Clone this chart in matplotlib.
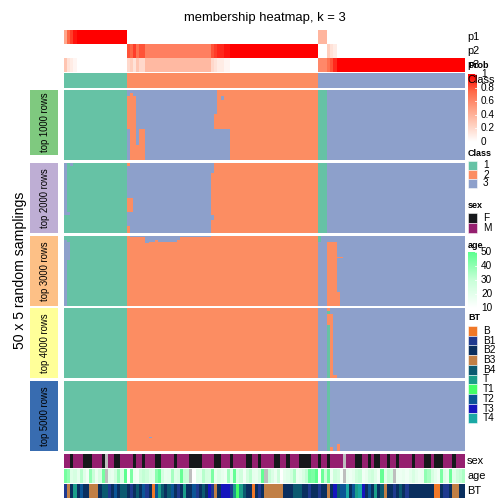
import numpy as np
import matplotlib.pyplot as plt
from matplotlib.colors import ListedColormap, LinearSegmentedColormap, to_rgb, to_rgba
from matplotlib.patches import Rectangle

plt.rcParams['font.family'] = ['Liberation Sans', 'DejaVu Sans']

W = H = 504

# ---- data ----
class_colors = ['#66C2A5', '#FC8D62', '#8DA0CB']
block_names = ['top 1000 rows', 'top 2000 rows', 'top 3000 rows', 'top 4000 rows', 'top 5000 rows']
block_colors = ['#7FC97F', '#BEAED4', '#FDC086', '#FFFF99', '#386CB0']

# each block: (number of sampling rows, [(class, number of columns), ...])
block_1000 = [
    (2, [(1, 20), (3, 29), (2, 32), (1, 3), (3, 44)]),
    (2, [(1, 20), (3, 1), (2, 1), (3, 27), (2, 32), (1, 3), (3, 44)]),
    (3, [(1, 20), (2, 3), (3, 26), (2, 1), (3, 1), (2, 30), (1, 3), (3, 44)]),
    (10, [(1, 20), (2, 3), (3, 26), (2, 32), (1, 3), (3, 44)]),
    (11, [(1, 20), (2, 3), (3, 25), (2, 33), (1, 3), (3, 44)]),
    (11, [(1, 20), (3, 1), (2, 2), (3, 1), (2, 2), (3, 27), (2, 28), (1, 3), (3, 44)]),
    (11, [(1, 20), (3, 1), (2, 5), (3, 27), (2, 28), (1, 3), (3, 44)]),
]
block_2000 = [
    (2, [(3, 1), (1, 1), (3, 1), (1, 17), (2, 1), (3, 27), (2, 33), (1, 3), (3, 44)]),
    (5, [(3, 1), (1, 19), (3, 28), (2, 33), (1, 3), (3, 44)]),
    (18, [(3, 1), (1, 19), (3, 27), (2, 34), (1, 3), (3, 44)]),
    (10, [(3, 1), (1, 19), (2, 2), (3, 25), (2, 34), (1, 3), (3, 44)]),
    (2, [(3, 2), (1, 18), (3, 27), (2, 34), (1, 3), (3, 44)]),
    (4, [(1, 20), (3, 28), (2, 33), (1, 3), (3, 44)]),
    (4, [(1, 20), (3, 27), (2, 34), (1, 3), (3, 44)]),
    (5, [(1, 20), (2, 1), (3, 26), (2, 34), (1, 3), (3, 44)]),
]
block_3000 = [
    (1, [(1, 20), (2, 1), (3, 26), (2, 34), (1, 1), (3, 46)]),
    (2, [(1, 20), (2, 6), (3, 11), (2, 44), (1, 1), (3, 46)]),
    (1, [(3, 1), (1, 19), (2, 6), (3, 3), (2, 1), (3, 6), (2, 45), (1, 1), (3, 46)]),
    (1, [(3, 2), (1, 18), (2, 6), (3, 1), (2, 54), (3, 3), (2, 3), (3, 41)]),
    (10, [(3, 2), (1, 18), (2, 61), (3, 3), (2, 3), (3, 41)]),
    (1, [(3, 2), (1, 18), (2, 61), (3, 3), (2, 5), (3, 39)]),
    (1, [(3, 2), (1, 18), (2, 61), (3, 3), (2, 3), (3, 41)]),
    (23, [(3, 1), (1, 19), (2, 61), (3, 3), (2, 3), (3, 41)]),
    (10, [(3, 1), (1, 19), (2, 61), (3, 3), (2, 4), (3, 40)]),
]
block_4000 = [
    (2, [(1, 20), (2, 61), (3, 3), (2, 1), (3, 43)]),
    (2, [(1, 20), (2, 61), (3, 3), (1, 1), (3, 43)]),
    (8, [(1, 20), (2, 61), (3, 3), (2, 2), (3, 42)]),
    (36, [(1, 20), (2, 61), (3, 3), (1, 1), (2, 1), (3, 42)]),
    (2, [(1, 20), (2, 61), (3, 3), (1, 1), (2, 2), (3, 41)]),
]
block_5000 = [
    (40, [(1, 20), (2, 61), (3, 3), (1, 1), (3, 43)]),
    (1, [(1, 20), (2, 7), (3, 1), (2, 53), (3, 3), (1, 1), (3, 43)]),
    (4, [(1, 20), (2, 61), (3, 3), (1, 1), (3, 43)]),
    (2, [(1, 20), (2, 61), (3, 3), (1, 1), (3, 2), (2, 1), (3, 40)]),
    (3, [(1, 20), (2, 61), (3, 3), (1, 1), (2, 1), (3, 1), (2, 1), (3, 40)]),
]
blocks = [block_1000, block_2000, block_3000, block_4000, block_5000]

# consensus class per column
consensus = [1] * 20 + [2] * 61 + [3] * 47

p1 = [0.45, 0.75, 0.85, 0.95] + [1.0] * 16 + [0.0] * 61 + [0.38] * 3 + [0.0] * 44
p2 = ([0.0] * 20
      + [0.8, 0.75, 0.85, 0.7, 0.8, 0.8] + [0.64] * 21
      + [0.8, 0.85, 0.9, 0.9, 0.95, 0.95] + [1.0] * 28
      + [0.0] * 3 + [0.25, 0.15, 0.1] + [0.0] * 41)
p3 = ([0.3, 0.15, 0.1, 0.05] + [0.0] * 16
      + [0.2, 0.25, 0.15, 0.3, 0.2, 0.2] + [0.36] * 21
      + [0.2, 0.15, 0.1, 0.1, 0.05, 0.05] + [0.0] * 28
      + [0.6] * 3 + [0.7, 0.8, 0.9] + [1.0] * 41)

sex = ['M', 'M', 'F', 'M', 'M', 'M', 'F', 'F', 'F', 'M', 'M', 'M', 'F', None, 'M', 'M',
       'F', 'F', 'M', 'M', 'M', 'M', 'F', 'M', 'M', 'F', 'M', 'M', 'M', 'F', 'F', 'M',
       'M', 'M', 'M', 'F', 'M', 'M', 'M', 'M', 'F', 'F', 'F', 'F', 'M', 'M', 'M', 'M',
       'F', 'F', 'M', 'M', 'M', 'F', 'M', 'M', 'M', 'M', 'F', 'F', 'M', 'M', 'F', 'M',
       'M', 'M', 'M', 'F', 'F', 'M', 'M', 'F', 'M', 'M', 'M', 'F', 'F', 'F', 'F', 'M',
       'M', 'F', 'M', 'M', 'F', 'M', 'M', 'M', 'M', None, 'M', 'M', 'M', 'F', 'F', 'M',
       'M', 'F', 'M', 'F', 'F', 'M', 'M', 'F', 'M', 'M', 'F', 'M', 'M', 'M', 'M', 'F',
       'M', 'M', 'M', 'F', 'F', 'M', 'F', 'F', 'F', 'M', 'M', 'M', 'F', 'M', 'M', 'M']
age = [45, 40, 22, 25, 19, 33, 21, 15, 40, 29, 17, 24, 45, None, 20, 18,
       26, 38, 23, 50, 52, 44, 16, 14, 27, 31, 28, 22, 20, 41, 47, 25,
       18, 19, 36, 22, 24, 48, 30, 29, None, 53, 21, 20, 33, 26, 25, 44,
       18, 23, 19, 16, 37, 21, 48, 22, 27, 15, 26, 32, 19, 18, 24, 49,
       None, 30, 23, 17, 28, 52, 19, 21, 26, 35, 17, 19, 24, 31, 46, 44,
       50, 53, 47, 29, 45, 16, 28, 25, 14, None, 18, 16, 19, 27, 30, 15,
       18, 25, 28, 21, 15, 48, 20, 30, 27, None, 17, 16, 18, 15, 19, 24,
       19, 16, 17, 40, 36, 25, 19, 15, 44, 22, 18, 47, 21, 28, 31, 35]
bt = ['B1', 'B3', 'B2', 'T', 'B2', 'T2', 'B2', 'B2', 'B3', 'B3', 'B3', 'B2', 'B4', 'B4', 'B1', 'B2',
      'T2', 'B2', 'B4', 'B4', 'B2', 'B1', 'B2', 'B4', 'B2', 'T2', 'B1', 'B2', 'B', 'T2', 'T', 'B4',
      'B2', 'B4', 'T2', 'B2', 'B1', 'B2', 'T', 'B2', 'B2', 'T2', 'B1', 'B2', 'B4', 'B2', 'T3', 'B1',
      'B3', 'B2', 'T3', 'T3', 'T3', 'B1', 'T', 'T1', 'T', 'B4', 'B2', 'B2', 'B', 'B2', 'B1', 'B2',
      'B3', 'B3', 'B3', 'B3', 'B3', 'B3', 'B2', 'B2', 'B2', 'B4', 'B4', 'B4', 'B2', 'B2', 'B1', 'B2',
      'B2', 'B1', 'B2', 'B2', 'B3', 'B2', 'T3', 'B4', 'T2', 'T2', 'T4', 'B2', 'T2', 'T', 'T4', 'T3',
      'B2', 'T2', 'B2', 'T', 'B2', 'B4', 'B3', 'B2', 'B2', 'B1', 'B2', 'B4', 'B2', 'B1', 'B2', 'B2',
      'B2', 'B2', 'B2', 'B2', 'B2', 'B2', 'B', 'B', 'B2', 'B1', 'B1', 'B2', 'B3', 'B3', 'B2', 'B2']

sex_colors = {'F': '#16181B', 'M': '#951F6F'}
bt_levels = ['B', 'B1', 'B2', 'B3', 'B4', 'T', 'T1', 'T2', 'T3', 'T4']
bt_colors = ['#F07828', '#1F3A8F', '#0A2F5F', '#C17F45', '#0B5A70',
             '#1B9E8A', '#44FF66', '#0B5596', '#1515BE', '#1AA9A5']
na_color = '#BEBEBE'

prob_cmap = LinearSegmentedColormap.from_list(
    'prob', ['#FFFFFF', '#FFCFBE', '#FF9E81', '#FF6846', '#FF0000'])
age_cmap = LinearSegmentedColormap.from_list('age', ['#FFFFFF', '#C8FFD8', '#5CFF8F'])

# ---- layout (pixels, origin top-left) ----
x0, x1 = 64, 465
block_y = [(90, 160), (163, 233), (236, 306), (308, 378), (381, 451)]
label_y = [(90, 155), (163, 233), (236, 306), (308, 378), (381, 451)]


def expand(runs_rows):
    rows = []
    for n, runs in runs_rows:
        row = np.concatenate([np.full(k, c) for c, k in runs])
        rows.extend([row] * n)
    return np.array(rows, dtype=float)


fig = plt.figure(figsize=(7, 7), dpi=72)
ax = fig.add_axes([0, 0, 1, 1])
ax.axis('off')

class_cmap = ListedColormap(class_colors)


def strip(values, y_top, y_bot, **kw):
    ax.imshow(np.atleast_2d(values), extent=(x0, x1, y_bot, y_top), aspect='auto',
              interpolation='nearest', **kw)


# top annotations
strip(p1, 30, 44, cmap=prob_cmap, vmin=0, vmax=1)
strip(p2, 44, 58, cmap=prob_cmap, vmin=0, vmax=1)
strip(p3, 58, 72, cmap=prob_cmap, vmin=0, vmax=1)
strip(consensus, 73, 88, cmap=class_cmap, vmin=0.5, vmax=3.5)

# membership blocks
for blk, (yt, yb), (lt, lb), name, col in zip(blocks, block_y, label_y, block_names, block_colors):
    mat = expand(blk)
    ax.imshow(mat, extent=(x0, x1, yb, yt), aspect='auto', interpolation='nearest',
              cmap=class_cmap, vmin=0.5, vmax=3.5)
    ax.add_patch(Rectangle((30, lt), 28, lb - lt, facecolor=col, edgecolor='none'))
    ax.text(45, (lt + lb) / 2, name, rotation=90, ha='center', va='center', fontsize=9.5)

# bottom annotations
sex_rgb = [[to_rgb(sex_colors[s]) if s else to_rgb(na_color) for s in sex]]
ax.imshow(sex_rgb, extent=(x0, x1, 468, 454), aspect='auto', interpolation='nearest')
age_rgb = [[age_cmap(min((a - 10) / 40, 1)) if a is not None else to_rgba(na_color) for a in age]]
ax.imshow(age_rgb, extent=(x0, x1, 483, 469), aspect='auto', interpolation='nearest')
bt_rgb = [[to_rgb(bt_colors[bt_levels.index(b)]) for b in bt]]
ax.imshow(bt_rgb, extent=(x0, x1, 498, 484), aspect='auto', interpolation='nearest')

# texts
ax.text((x0 + x1) / 2, 18, 'membership heatmap, k = 3', ha='center', va='center', fontsize=13)
ax.text(20, 270, '50 x 5 random samplings', rotation=90, ha='center', va='center', fontsize=14)
for lab, y in [('p1', 37), ('p2', 51), ('p3', 65), ('sex', 461), ('age', 476), ('BT', 491)]:
    ax.text(467, y, lab, ha='left', va='center', fontsize=11)

# legends
lx = 468
kw_title = dict(ha='left', va='center', fontsize=9, fontweight='bold')
kw_lab = dict(ha='left', va='center', fontsize=10)
ax.text(lx, 66, 'Prob', **kw_title)
ax.text(lx - 1, 80, 'Class', ha='left', va='center', fontsize=11)
grad = np.linspace(1, 0, 100).reshape(-1, 1)
ax.imshow(grad, extent=(lx, lx + 9, 142, 74), aspect='auto', cmap=prob_cmap, vmin=0, vmax=1)
for v in [0, 0.2, 0.4, 0.6, 0.8, 1]:
    yy = 142 - 68 * v
    ax.plot([lx + 7, lx + 9], [yy, yy], color='white', lw=0.8)
    ax.text(lx + 13, yy, f'{v:g}', **kw_lab)

ax.text(lx, 153, 'Class', **kw_title)
for i, c in enumerate(class_colors):
    ax.add_patch(Rectangle((lx, 161 + 9 * i), 9, 9, facecolor=c, edgecolor='white', lw=0.5))
    ax.text(lx + 15, 165.5 + 9 * i, str(i + 1), **kw_lab)

ax.text(lx, 205, 'sex', **kw_title)
for i, s in enumerate(['F', 'M']):
    ax.add_patch(Rectangle((lx, 213 + 10 * i), 9, 10, facecolor=sex_colors[s], edgecolor='white', lw=0.5))
    ax.text(lx + 15, 218 + 10 * i, s, **kw_lab)

ax.text(lx, 245, 'age', **kw_title)
ax.imshow(grad, extent=(lx, lx + 9, 308, 252), aspect='auto', cmap=age_cmap, vmin=0, vmax=1)
for v in [10, 20, 30, 40, 50]:
    yy = 308 - 56 * (v - 10) / 40
    ax.plot([lx + 7, lx + 9], [yy, yy], color='white', lw=0.8)
    ax.text(lx + 13, yy, str(v), **kw_lab)

ax.text(lx, 317, 'BT', **kw_title)
for i, (b, c) in enumerate(zip(bt_levels, bt_colors)):
    ax.add_patch(Rectangle((lx, 326 + 9.7 * i), 9, 9.7, facecolor=c, edgecolor='white', lw=0.5))
    ax.text(lx + 15, 331 + 9.7 * i, b, **kw_lab)

ax.set_xlim(0, W)
ax.set_ylim(H, 0)
fig.savefig('out.png', dpi=72)
